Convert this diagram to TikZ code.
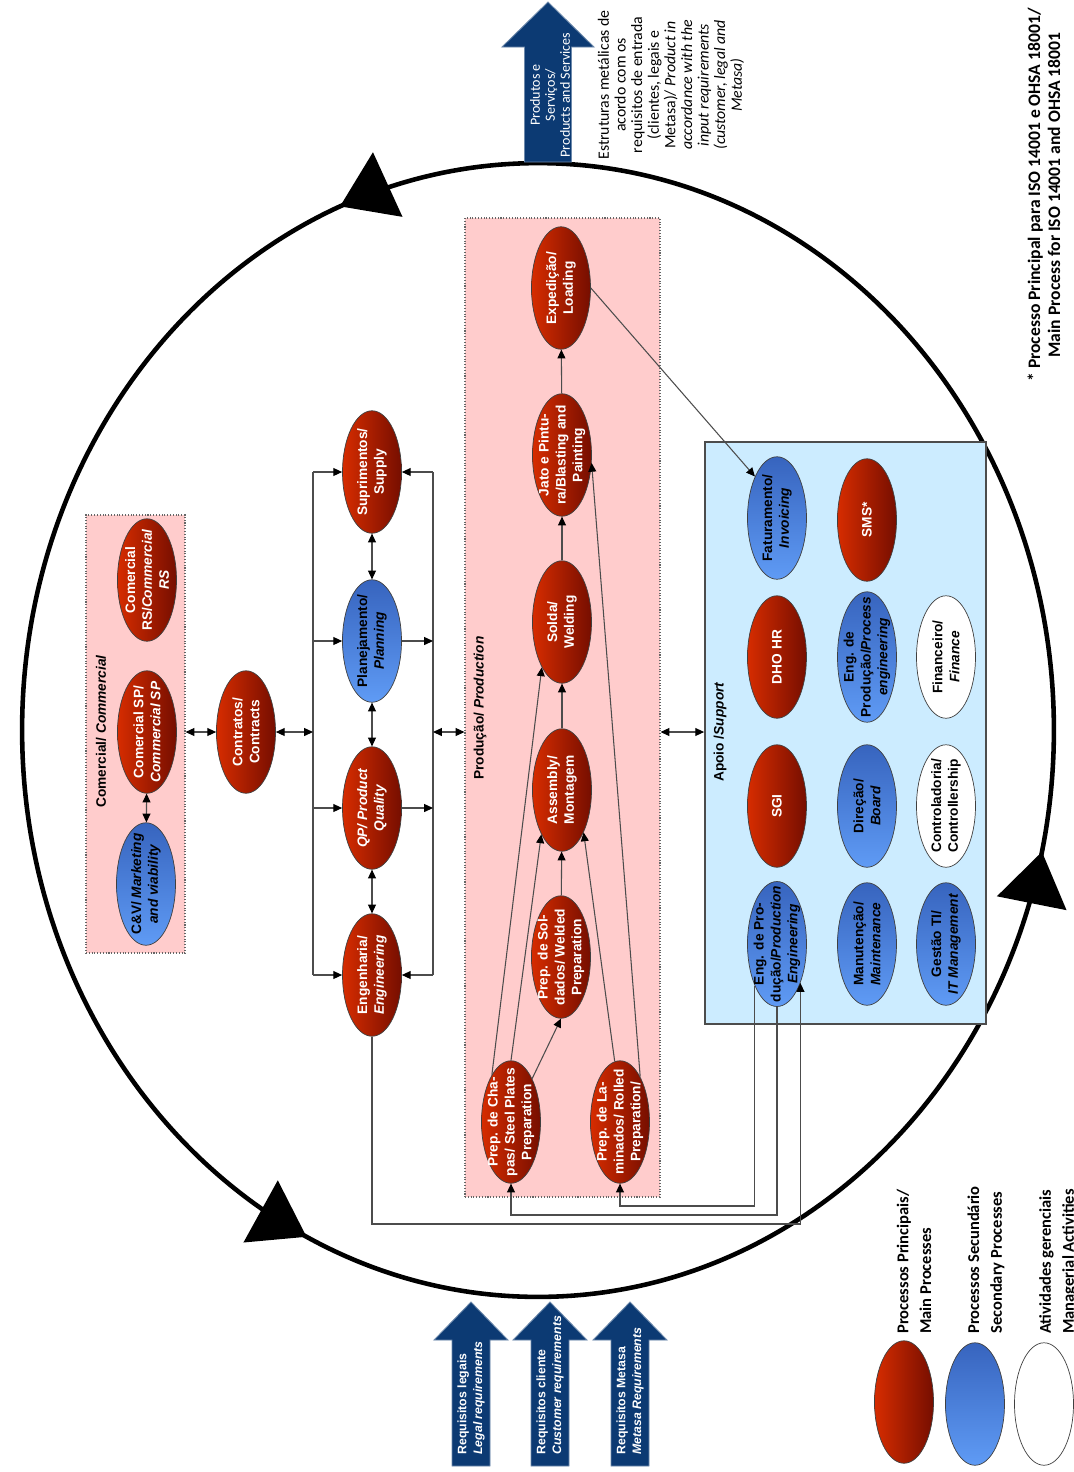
\documentclass[tikz,border=0pt]{standalone}
\usepackage{fontspec}
\setmainfont{Liberation Sans}
\newfontfamily\calib{Carlito}
\usetikzlibrary{arrows.meta,shapes,calc,positioning,fit,decorations.markings}
\definecolor{redL}{RGB}{214,44,0}
\definecolor{redD}{RGB}{118,14,0}
\definecolor{blueL}{RGB}{95,155,245}
\definecolor{blueD}{RGB}{55,100,190}
\definecolor{pinkbox}{RGB}{255,204,204}
\definecolor{skybox}{RGB}{204,236,255}
\definecolor{navy}{RGB}{12,58,115}
\tikzset{
	proc/.style={ellipse, rotate=90, minimum width=2.45cm, minimum height=1.18cm, inner sep=-8pt, align=center, font=\fontsize{7.8}{9.6}\selectfont\bfseries, draw=black!75, line width=0.4pt},
	mainproc/.style={proc, left color=redL, right color=redD, text=white},
	secproc/.style={proc, top color=blueD, bottom color=blueL},
	mgmtproc/.style={proc, fill=white},
	grpbox/.style={fill=pinkbox, draw=black!60, densely dotted, line width=0.6pt, inner sep=0pt},
	apoiobox/.style={fill=skybox, draw=black!70, line width=1pt, inner sep=0pt},
	grplabel/.style={rotate=90, anchor=west, inner sep=0pt, font=\fontsize{7.8}{9}\selectfont\bfseries},
	wire/.style={draw=black!70, line width=0.6pt},
	flow/.style={wire, -{Triangle[length=5pt,width=4.5pt,color=black]}},
	biflow/.style={wire, {Triangle[length=5pt,width=4.5pt,color=black]}-{Triangle[length=5pt,width=4.5pt,color=black]}},
	bigarrow/.style={fill=navy, draw=navy!60!white, line width=0.5pt},
	reqtext/.style={rotate=90, anchor=west, align=left, inner sep=0pt, text=white, font=\fontsize{7}{9}\selectfont\bfseries},
	legtext/.style={rotate=90, anchor=west, align=left, inner sep=0pt, font=\calib\bfseries\fontsize{9.4}{13}\selectfont},
	cyclepath/.style={line width=2.6pt, postaction={decorate, decoration={markings,
		mark=at position 0.31 with {\arrow{Triangle[length=1.05cm,width=1.4cm]}},
		mark=at position 0.679 with {\arrow{Triangle[length=1.05cm,width=1.4cm]}},
		mark=at position 0.964 with {\arrow{Triangle[length=1.05cm,width=1.4cm]}}}}},
}
\begin{document}
\begin{tikzpicture}[x=0.02cm, y=-0.02cm]
	\useasboundingbox (0,0) rectangle (1073,1472);
	\draw[cyclepath] (538,730) ellipse [x radius=10.32cm, y radius=11.34cm];

	\node (combox) [grpbox, fit={(86,515) (185,953)}] {};
	\node (prodbox) [grpbox, fit={(465,218) (660,1197)}] {};
	\node (apoiobox) [apoiobox, fit={(705,442) (986,1024)}] {};
	\node (comlbl) at (101,808) [grplabel] {Comercial/ \textit{Commercial}};
	\node (prodlbl) at (480,780) [grplabel] {Produção/ \textit{Production}};
	\node (apoiolbl) at (720,782) [grplabel] {Apoio /\textit{Support}};

	% comercial
	\node (crs) at (147,580) [mainproc] {Comercial\\RS/\textit{Commercial}\\\textit{RS}};
	\node (csp) at (147,732) [mainproc] {Comercial SP/\\\textit{Commercial SP}};
	\node (cv) at (146,884) [secproc] {C\&V/ \textit{Marketing}\\\textit{and viability}};
	\node (contr) at (246,732) [mainproc] {Contratos/\\Contracts};
	\draw[biflow] (csp) -- (cv);
	\draw[biflow] (combox.east |- contr) -- (contr);

	% planejamento
	\coordinate (lbT) at (313,472);
	\coordinate (lbB) at (313,975);
	\coordinate (rbT) at (433,472);
	\coordinate (rbB) at (433,975);
	\node (supr) at (372,472) [mainproc] {Suprimentos/\\Supply};
	\node (plan) at (372,641) [secproc] {Planejamento/\\\textit{Planning}};
	\node (qp) at (372,808) [mainproc] {\textit{QP/ Product}\\\textit{Quality}};
	\node (eng) at (372,975) [mainproc] {Engenharia/\\\textit{Engineering}};
	\draw[wire] (lbT) -- (lbB);
	\draw[wire] (rbT) -- (rbB);
	\draw[biflow] (contr) -- (lbT |- contr);
	\foreach \n in {supr,plan,qp,eng}
		\draw[flow] (lbT |- \n) -- (\n);
	\draw[flow] (rbT |- supr) -- (supr);
	\draw[flow] (plan) -- (rbT |- plan);
	\draw[flow] (qp) -- (rbT |- qp);
	\draw[flow] (rbT |- eng) -- (eng);
	\draw[biflow] (supr) -- (plan);
	\draw[biflow] (plan) -- (qp);
	\draw[biflow] (qp) -- (eng);
	\draw[biflow] (rbT |- contr) -- (prodbox.west |- contr);
	\draw[biflow] (prodbox.east |- contr) -- (apoiobox.west |- contr);

	% producao
	\node (exped) at (561,288) [mainproc] {Expedição/\\Loading};
	\node (jato) at (562,455) [mainproc] {Jato e Pintu-\\ra/Blasting and\\Painting};
	\node (solda) at (562,622) [mainproc] {Solda/\\Welding};
	\node (assem) at (562,790) [mainproc] {Assembly/\\Montagem};
	\node (psold) at (561,957) [mainproc] {Prep. de Sol-\\dados/ Welded\\Preparation};
	\node (pchap) at (511,1122) [mainproc] {Prep. de Cha-\\pas/ Steel Plates\\Preparation};
	\node (plam) at (620,1122) [mainproc] {Prep. de La-\\minados/ Rolled\\Preparation/};
	\draw[flow] (jato) -- (exped);
	\draw[flow] (solda) -- (jato);
	\draw[flow] (assem) -- (solda);
	\draw[flow] (psold) -- (assem);
	\draw[flow] (pchap.-26) -- (psold.west);
	\draw[flow] (pchap.22) -- (solda.156);
	\draw[flow] (pchap.east) -- (assem.155);
	\draw[flow] (plam.5) -- (assem.207);
	\draw[flow] (plam.-24) -- (jato.255);

	% apoio
	\node (fatur) at (777,518) [secproc] {Faturamento/\\\textit{Invoicing}};
	\node (sms) at (867,520) [mainproc] {SMS*};
	\node (dho) at (777,657) [mainproc] {DHO HR};
	\node (engproc) at (867,657) [secproc] {Eng. de\\Produção/\textit{Process}\\\textit{engineering}};
	\node (finan) at (946,657) [mgmtproc] {Financeiro/\\\textit{Finance}};
	\node (sgi) at (777,806) [mainproc] {SGI};
	\node (direc) at (867,806) [secproc] {Direção/\\\textit{Board}};
	\node (ctrl) at (946,806) [mgmtproc] {Controladoria/\\Controllership};
	\node (engprod) at (777,944) [secproc] {Eng. de Pro-\\dução/\textit{Production}\\\textit{Engineering}};
	\node (manut) at (867,944) [secproc] {Manutenção/\\\textit{Maintenance}};
	\node (gestao) at (946,944) [secproc] {Gestão TI/\\\textit{IT Management}};
	\draw[flow] (exped.south) -- (fatur.28);

	\coordinate (yA) at (0,1206);
	\coordinate (yB) at (0,1215);
	\coordinate (yC) at (0,1224);
	\draw[flow] (engprod.152) -- (engprod.152 |- yA) -| (plam);
	\draw[flow] (engprod.west) -- (engprod.west |- yB) -| (pchap);
	\draw[flow] (eng.west) -- (eng.west |- yC) -| (engprod.211);

	% entradas e saidas
	\path[bigarrow] (548,2) -- ++(46,45) -- ++(-22.5,0) -- ++(0,115) -- ++(-47,0) -- ++(0,-115) -- ++(-22.5,0) -- cycle;
	\node (prodserv) at (550,95) [rotate=90, align=center, inner sep=0pt, text=white, font=\calib\fontsize{8}{8.5}\selectfont] {Produtos e\\Serviços/\\Products and Services};
	\node (outdesc) at (671,85) [rotate=90, align=center, inner sep=0pt, font=\calib\fontsize{9}{9.45}\selectfont] {Estruturas metálicas de\\acordo com os\\requisitos de entrada\\(clientes, legais e\\Metasa)/ \textit{Product in}\\\textit{accordance with the}\\\textit{input requirements}\\\textit{(customer, legal and}\\\textit{Metasa)}};
	\foreach \ax in {471,550,630}
		\path[bigarrow] (\ax,1302) -- ++(37,38) -- ++(-18,0) -- ++(0,126) -- ++(-38,0) -- ++(0,-126) -- ++(-18,0) -- cycle;
	\node (reqleg) at (471,1455) [reqtext] {Requisitos legais\\\textit{Legal requirements}};
	\node (reqcli) at (550,1455) [reqtext] {Requisitos cliente\\\textit{Customer requirements}};
	\node (reqmet) at (630,1455) [reqtext] {Requisitos Metasa\\\textit{Metasa Requirements}};

	% legenda
	\node (isonote) at (1044,195) [rotate=90, align=center, inner sep=0pt, font=\calib\bfseries\fontsize{10}{11.4}\selectfont] {* Processo Principal para ISO 14001 e OHSA 18001/\\Main Process for ISO 14001 and OHSA 18001};
	\node (lgmain) at (904,1402) [mainproc] {};
	\node (lgsec) at (975,1404) [secproc] {};
	\node (lgmgmt) at (1044,1404) [mgmtproc] {};
	\node (lgmaintxt) at (914,1334) [legtext] {Processos Principais/\\Main Processes};
	\node (lgsectxt) at (986,1334) [legtext] {Processos Secundário\\Secondary Processes};
	\node (lgmgmttxt) at (1058,1334) [legtext] {Atividades gerenciais\\Managerial Activities};
\end{tikzpicture}
\end{document}
